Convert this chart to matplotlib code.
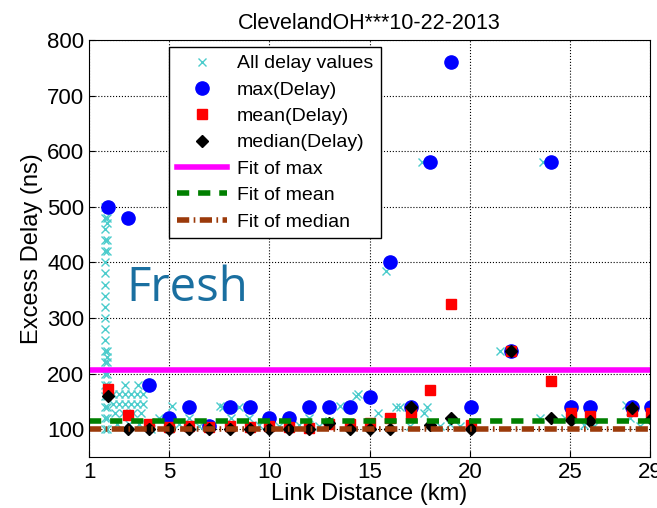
import matplotlib
matplotlib.use('Agg')
import matplotlib.pyplot as plt

plt.rcParams['font.family'] = ['Liberation Sans', 'DejaVu Sans']

# binned link distances (km) and the stats per bin
dist = [1.95, 2.95, 4, 5, 6, 7, 8.05, 9.05, 10, 11, 12, 13, 14, 15, 16,
        17.05, 18, 19.05, 20.05, 22.05, 24.05, 25.05, 26, 28.1, 29.05]
max_delay = [500, 480, 180, 120, 140, 105, 140, 140, 120, 120, 140, 140, 140, 158, 400,
             140, 580, 760, 140, 240, 580, 140, 140, 140, 140]
mean_delay = [172, 125, 110, 104, 105, 104, 105, 104, 105, 104, 103, 110, 110, 111, 120,
              130, 170, 325, 108, 240, 186, 130, 124, 133, 129]
median_delay = [160, 100, 100, 100, 100, 100, 100, 100, 100, 100, 100, 112, 100, 100, 100,
                140, 108, 120, 100, 240, 120, 116, 114, 138, 118]

# all individual delay values
all_x = [1.8] * 21 + [1.9] * 13 + \
        [2.2, 2.5, 2.8, 3.1, 3.4, 3.7, 2.2, 2.5, 2.8, 3.1, 3.4, 3.7, 2.8, 3.45,
         2.3, 2.7, 3.2, 3.6, 2.4, 3.0, 3.5, 4.1, 4.5, 5.15, 5.0, 5.5, 6.0, 6.5,
         7.55, 7.7, 8.5, 8.1, 9.0, 9.5, 10.0, 10.5, 11.0, 11.5, 12.0, 12.5, 13.0,
         13.5, 14.3, 14.4, 15.4, 15.8, 16.3, 16.5, 17.0, 17.6, 17.85, 17.7, 18.5,
         19.0, 19.5, 21.5, 23.65, 23.5, 24.75, 25.7, 26.2, 27.8, 28.0, 28.5]
all_y = [500, 480, 460, 440, 420, 400, 380, 360, 340, 320, 300, 280, 260, 240, 220,
         200, 180, 160, 140, 120, 100] + \
        [480, 470, 440, 420, 240, 230, 220, 200, 180, 160, 140, 120, 100] + \
        [163, 163, 163, 163, 163, 163, 145, 145, 145, 145, 145, 145, 180, 180,
         130, 130, 130, 130, 110, 110, 110, 100, 120, 142, 100, 110, 120, 105,
         142, 140, 140, 120, 120, 108, 110, 105, 110, 108, 120, 105, 115,
         142, 160, 163, 130, 384, 140, 140, 105, 580, 140, 130, 105,
         110, 105, 240, 580, 120, 120, 107, 105, 143, 120, 105]

fit_max = 207
fit_mean = 115
fit_median = 101

fig = plt.figure(figsize=(6.57, 5.08), dpi=100)
ax = fig.add_axes([0.1355, 0.1004, 0.854, 0.821])

ax.plot(all_x, all_y, 'x', color='#4ccccc', markersize=6, mew=1.0, label='All delay values')
ax.plot(dist, max_delay, 'o', color='#0000ff', markersize=9.5, label='max(Delay)')
ax.plot(dist, mean_delay, 's', color='#ff0000', markersize=7, label='mean(Delay)')
ax.plot(dist, median_delay, 'D', color='black', markersize=6.5, label='median(Delay)')
ax.plot([1, 29], [fit_max, fit_max], '-', color='#ff00ff', lw=4, label='Fit of max')
ax.plot([1, 29], [fit_mean, fit_mean], '--', color='#007f00', lw=4, dashes=(2.2, 1.6),
        label='Fit of mean')
ax.plot([1, 29], [fit_median, fit_median], '-.', color='#9b3a0a', lw=4,
        dashes=(2.2, 0.8, 0.3, 0.8), label='Fit of median')

ax.text(5.9, 354, 'Fresh', fontsize=34, color='#1a6fa0', family=['Open Sans', 'DejaVu Sans'],
        ha='center', va='center')

ax.set_xlim(1, 29)
ax.set_ylim(50, 800)
ax.set_xticks([1, 5, 10, 15, 20, 25, 29])
ax.set_yticks(range(100, 900, 100))
ax.tick_params(direction='in', labelsize=16, length=4)
ax.grid(True, linestyle=':', color='black', linewidth=0.8)
ax.set_xlabel('Link Distance (km)', fontsize=17, labelpad=0)
ax.set_ylabel('Excess Delay (ns)', fontsize=17, labelpad=3)
ax.set_title('ClevelandOH***10-22-2013', fontsize=15.5, pad=8)

leg = ax.legend(loc='upper left', bbox_to_anchor=(0.257, 0.9075), bbox_transform=fig.transFigure,
                fontsize=14, fancybox=False, edgecolor='black', framealpha=1,
                handlelength=2.6, labelspacing=0.45, borderpad=0.4, borderaxespad=0,
                handletextpad=0.5)
leg.get_frame().set_linewidth(1.0)

fig.savefig('out.png', dpi=100)
